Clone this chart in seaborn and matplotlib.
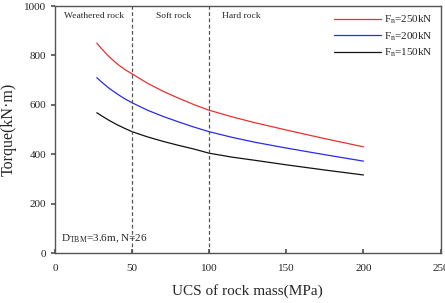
import numpy as np
import pandas as pd
import matplotlib
matplotlib.use("Agg")
import matplotlib.pyplot as plt
import seaborn as sns

# values
ucs = [27, 30, 35, 40, 45, 50, 60, 70, 80, 90, 100, 115, 130, 150, 175, 200]
torque_250 = [850, 828, 795, 767, 744, 725, 687, 655, 627, 601, 578, 551, 527, 498, 463, 430]
torque_200 = [710, 693, 667, 645, 625, 608, 578, 553, 531, 510, 491, 468, 448, 425, 398, 372]
torque_150 = [568, 556, 537, 520, 505, 491, 470, 452, 436, 421, 404, 388, 375, 357, 336, 316]
series_labels = ["F$_{\\mathregular{n}}$=250kN", "F$_{\\mathregular{n}}$=200kN",
                 "F$_{\\mathregular{n}}$=150kN"]
series_colors = ["#e8312f", "#2a2ae8", "#111111"]
boundaries = [50, 100]
zones = [("Weathered rock", 25), ("Soft rock", 77), ("Hard rock", 121)]

sns.set_theme(style="white")
plt.rcParams['font.family'] = ['Liberation Serif', 'DejaVu Serif']
plt.rcParams['mathtext.fontset'] = 'custom'
plt.rcParams['mathtext.rm'] = 'Liberation Serif'
plt.rcParams['mathtext.it'] = 'Liberation Serif'

df = pd.DataFrame({
    "ucs": ucs * 3,
    "torque": torque_250 + torque_200 + torque_150,
    "series": [series_labels[0]] * len(ucs) + [series_labels[1]] * len(ucs)
              + [series_labels[2]] * len(ucs),
})

fig = plt.figure(figsize=(4.45, 3.03), dpi=100)
ax = fig.add_axes([0.124, 0.165, 0.866, 0.815])

sns.lineplot(data=df, x="ucs", y="torque", hue="series", hue_order=series_labels,
             palette=series_colors, linewidth=0.9, ax=ax)

for b in boundaries:
    ax.axvline(b, color="#555555", linestyle=(0, (3, 2)), linewidth=0.9)

for name, xc in zones:
    ax.text(xc, 958, name, fontsize=6.8, ha="center", va="center")

ax.text(4, 57, "D$_{\\mathregular{TBM}}$=3.6m, N=26", fontsize=8, va="center")

ax.set_xlim(0, 250)
ax.set_ylim(0, 1000)
ax.set_xticks([0, 50, 100, 150, 200, 250])
ax.set_yticks([0, 200, 400, 600, 800, 1000])
ax.tick_params(axis="x", direction="in", length=3, labelsize=8, pad=8, color="#555555", bottom=True)
ax.tick_params(axis="y", direction="out", length=3, labelsize=8, color="#555555", left=True)
ax.set_xlabel("UCS of rock mass(MPa)", fontsize=11, labelpad=8)
ax.set_ylabel("Torque(kN·m)", fontsize=11.5)
for s in ax.spines.values():
    s.set_color("#555555")
    s.set_linewidth(1.0)

ax.legend(loc="upper right", frameon=False, fontsize=8, handlelength=4.2,
          handletextpad=0.3, labelspacing=0.35, borderaxespad=0.3)
ax.yaxis.set_label_coords(-0.1, 0.5)

fig.savefig("out.png", dpi=100)
